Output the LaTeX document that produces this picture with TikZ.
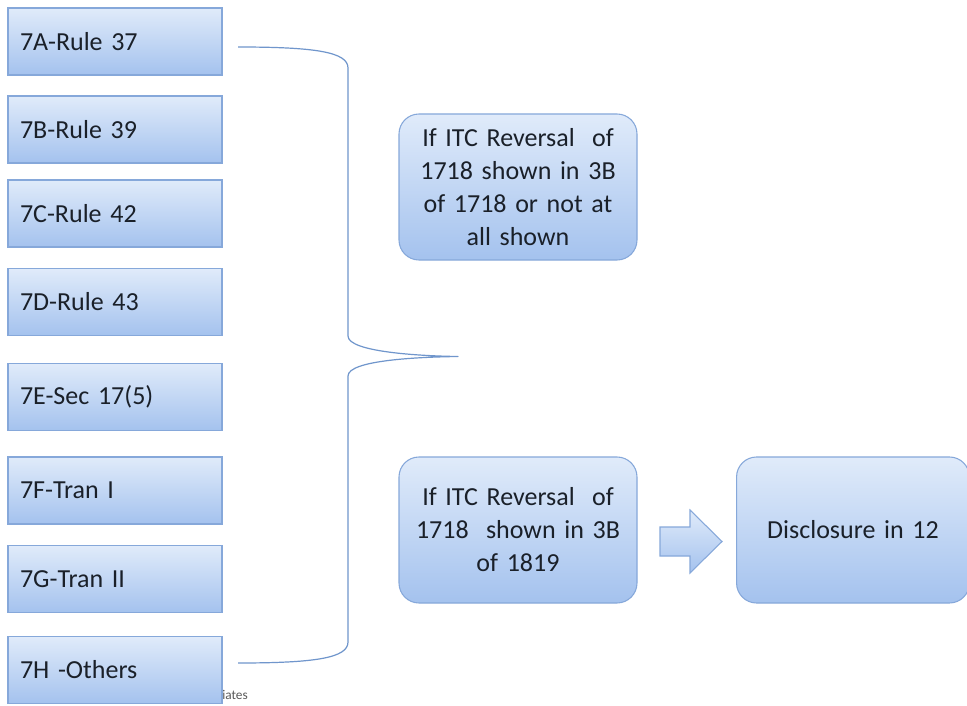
\documentclass[tikz,border=0pt]{standalone}
\usepackage{fontspec}
\setmainfont{Carlito}
\begin{document}
\begin{tikzpicture}[x=0.75pt,y=-0.75pt,
  boxfill/.style={top color=boxtop,bottom color=boxbot,draw=boxline,line width=0.8pt},
  rulebox/.style={boxfill,rectangle,minimum width=160.5pt,minimum height=50.25pt,
    inner xsep=9pt,text width=142.5pt,align=left,
    font=\fontsize{19.5}{23}\selectfont,text=txt},
  roundbox/.style={boxfill,rectangle,rounded corners=15pt,minimum width=178.5pt,
    minimum height=109.5pt,text width=168pt,align=center,
    font=\fontsize{19.5}{24.75}\selectfont,text=txt},
  brace/.style={draw=braceline,line width=0.9pt,line join=round}]
\definecolor{boxtop}{HTML}{E0EBFA}
\definecolor{boxbot}{HTML}{A4C2EE}
\definecolor{boxline}{HTML}{86A8DA}
\definecolor{braceline}{HTML}{7096CC}
\definecolor{txt}{HTML}{1A2029}
\useasboundingbox (0,0) rectangle (967,706);
\fill[white] (0,0) rectangle (967,706);

% footer fragment partly covered by the last box
\node[anchor=west,inner sep=0pt,text=black!65,font=\fontsize{10}{12}\selectfont] (foot) at (222,695) {iates};

% list of rules on the left
\node[rulebox] (r7a) at (115,41.5) {7A-Rule 37};
\node[rulebox] (r7b) at (115,129.5) {7B-Rule 39};
\node[rulebox] (r7c) at (115,213.5) {7C-Rule 42};
\node[rulebox] (r7d) at (115,302) {7D-Rule 43};
\node[rulebox] (r7e) at (115,397) {7E-Sec 17(5)};
\node[rulebox] (r7f) at (115,490.5) {7F-Tran I};
\node[rulebox] (r7g) at (115,579) {7G-Tran II};
\node[rulebox] (r7h) at (115,670) {7H -Others};

% curly brace grouping the rules
\coordinate (btop) at (238,47);
\coordinate (bbot) at (238,663);
\coordinate (btip) at (458,356.5);
\draw[brace] (btop) .. controls (315,47) and (348,52) .. (348,68)
  -- (348,336) .. controls (348,352) and (420,356) .. (btip)
  .. controls (420,357) and (348,360) .. (348,376)
  -- (348,642) .. controls (348,658) and (315,663) .. (bbot);

% outcome boxes on the right
\node[roundbox] (caseA) at (518,187) {If ITC Reversal\ \ of\\1718 shown in 3B\\of 1718 or not at\\all shown};
\node[roundbox] (caseB) at (518,530) {If ITC Reversal\ \ of\\1718\ \ shown in 3B\\of 1819};
\node[roundbox,minimum width=172.5pt] (disc) at (853,530) {Disclosure in 12};

% block arrow between the lower boxes
\draw[boxfill,line join=miter] (660,527) -- (690,527) -- (690,510) -- (722,541.5)
  -- (690,573) -- (690,556) -- (660,556) -- cycle;
\end{tikzpicture}
\end{document}
